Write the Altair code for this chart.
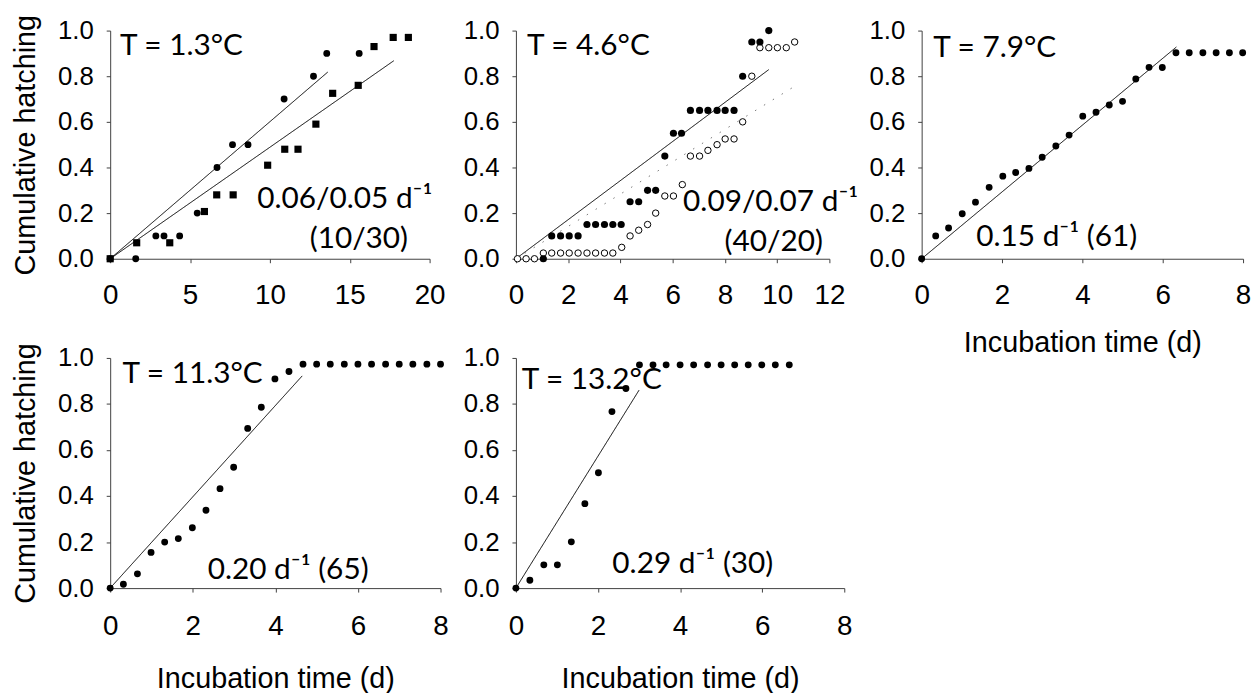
import altair as alt
import pandas as pd

# ---------------- data ----------------
# Panel 1: T = 1.3 °C
p1_circle_t = [0, 1.6, 2.86, 3.37, 4.35, 5.45, 6.69, 7.66, 8.63, 10.89, 12.73, 13.56, 15.59]
p1_circle_h = [0, 0, 0.10, 0.10, 0.10, 0.20, 0.40, 0.50, 0.50, 0.70, 0.80, 0.90, 0.90]
p1_square_t = [0, 1.66, 3.73, 5.9, 6.67, 7.70, 9.86, 10.93, 11.76, 12.88, 13.93, 15.53, 16.52, 17.72, 18.67]
p1_square_h = [0, 0.07, 0.07, 0.207, 0.28, 0.28, 0.41, 0.48, 0.48, 0.59, 0.725, 0.76, 0.93, 0.97, 0.97]
p1_fit1_t = [0, 13.62]
p1_fit1_h = [0, 0.818]
p1_fit2_t = [0, 17.76]
p1_fit2_h = [0, 0.868]

# Panel 2: T = 4.6 °C
p2_filled_t = [1.05, 1.37, 1.71, 2.04, 2.38, 2.72, 3.05, 3.39, 3.71, 4.03, 4.37, 4.70, 5.04, 5.35,
               5.70, 6.03, 6.34, 6.68, 7.03, 7.35, 7.70, 8.01, 8.35, 8.68, 9.03, 9.34, 9.68]
p2_filled_h = [0, 0.10, 0.10, 0.10, 0.10, 0.15, 0.15, 0.15, 0.15, 0.15, 0.25, 0.25, 0.30, 0.30,
               0.45, 0.55, 0.55, 0.65, 0.65, 0.65, 0.65, 0.65, 0.65, 0.80, 0.95, 0.95, 1.0]
p2_open_t = [0.06, 0.39, 0.71, 1.05, 1.37, 1.71, 2.04, 2.38, 2.72, 3.05, 3.39, 3.71, 4.05, 4.37, 4.70,
             5.04, 5.35, 5.70, 6.03, 6.37, 6.68, 7.03, 7.35, 7.70, 8.01, 8.35, 8.68, 9.03, 9.34,
             9.68, 10.01, 10.35, 10.67]
p2_open_h = [0, 0, 0, 0.025, 0.025, 0.025, 0.025, 0.025, 0.025, 0.025, 0.025, 0.025, 0.05, 0.10, 0.125,
             0.15, 0.20, 0.275, 0.275, 0.325, 0.45, 0.45, 0.475, 0.50, 0.525, 0.525, 0.60, 0.80, 0.925,
             0.925, 0.925, 0.925, 0.95]
p2_fit1_t = [0, 9.68]
p2_fit1_h = [0, 0.829]
p2_fit2_t = [0, 10.67]
p2_fit2_h = [0, 0.756]

# Panel 3: T = 7.9 °C
p3_t = [0, 0.35, 0.67, 1.01, 1.34, 1.68, 2.02, 2.34, 2.67, 3.0, 3.34, 3.67, 4.01, 4.34, 4.67, 5.0,
        5.33, 5.66, 5.99, 6.33, 6.66, 7.0, 7.33, 7.66, 7.99]
p3_h = [0, 0.10, 0.135, 0.197, 0.248, 0.313, 0.362, 0.378, 0.396, 0.445, 0.494, 0.542, 0.625, 0.642,
        0.674, 0.69, 0.788, 0.839, 0.838, 0.903, 0.903, 0.903, 0.903, 0.903, 0.903]
p3_fit_t = [0, 6.34]
p3_fit_h = [0, 0.928]

# Panel 4: T = 11.3 °C
p4_t = [0, 0.32, 0.66, 0.99, 1.32, 1.65, 1.99, 2.32, 2.66, 2.99, 3.33, 3.66, 3.99, 4.33, 4.67,
        5.0, 5.33, 5.67, 6.0, 6.33, 6.67, 7.0, 7.33, 7.67, 8.0]
p4_h = [0, 0.017, 0.062, 0.155, 0.20, 0.215, 0.262, 0.338, 0.432, 0.525, 0.694, 0.786, 0.909, 0.941,
        0.973, 0.973, 0.973, 0.973, 0.973, 0.973, 0.973, 0.973, 0.973, 0.973, 0.973]
p4_fit_t = [0, 4.65]
p4_fit_h = [0, 0.922]

# Panel 5: T = 13.2 °C
p5_t = [0, 0.34, 0.68, 1.01, 1.35, 1.68, 2.01, 2.34, 2.68, 3.01, 3.34, 3.66, 4.0, 4.33, 4.67, 5.0,
        5.33, 5.66, 5.99, 6.32, 6.66]
p5_h = [0, 0.034, 0.101, 0.101, 0.201, 0.367, 0.501, 0.767, 0.867, 0.97, 0.97, 0.97, 0.97, 0.97,
        0.97, 0.97, 0.97, 0.97, 0.97, 0.97, 0.97]
p5_fit_t = [0, 3.0]
p5_fit_h = [0, 0.86]

y_ticks = [0, 0.2, 0.4, 0.6, 0.8, 1.0]
y_title = "Cumulative hatching"
x_title = "Incubation time (d)"

FONT_AX = "Liberation Sans"
FONT_TXT = "Lato"
AX_COLOR = "#404040"


def df(t, h):
    return pd.DataFrame({"t": t, "h": h})


def make_panel(points, lines, texts, xmax, xstep, plot_w, view_w, plot_h,
               ytitle, xtitle, xlab_pad=19, xtitle_pad=18):
    xscale = alt.Scale(domain=[0, xmax], range=[0, plot_w], nice=False)
    yscale = alt.Scale(domain=[0, 1], nice=False)
    xaxis = alt.Axis(values=list(range(0, xmax + 1, xstep)), format="d", title=xtitle,
                     grid=False, domainColor=AX_COLOR, tickColor=AX_COLOR, tickSize=4,
                     labelFont=FONT_AX, labelFontSize=28, labelColor="black",
                     labelPadding=xlab_pad, labelFlush=False, labelOverlap=False,
                     titleFont=FONT_AX, titleFontSize=29, titleFontWeight="normal",
                     titleColor="black", titlePadding=xtitle_pad)
    yaxis = alt.Axis(values=y_ticks, format=".1f", title=ytitle,
                     grid=False, domainColor=AX_COLOR, tickColor=AX_COLOR, tickSize=4,
                     labelFont=FONT_AX, labelFontSize=26, labelColor="black",
                     labelPadding=13, labelFlush=False, labelOverlap=False,
                     titleFont=FONT_AX, titleFontSize=29, titleFontWeight="normal",
                     titleColor="black", titlePadding=17)
    ex = alt.X("t:Q", scale=xscale, axis=xaxis)
    ey = alt.Y("h:Q", scale=yscale, axis=yaxis)

    layers = []
    for (lt, lh, dash, color) in lines:
        m = alt.Chart(df(lt, lh)).mark_line(color=color, strokeWidth=1, strokeDash=dash)
        layers.append(m.encode(x=ex, y=ey))
    for (pt, ph, shape, filled, size) in points:
        m = alt.Chart(df(pt, ph)).mark_point(
            shape=shape, filled=True, size=size, opacity=1,
            fill="black" if filled else "white", stroke="black",
            strokeWidth=0 if filled else 1)
        layers.append(m.encode(x=ex, y=ey))
    for (tx, ty, label, align) in texts:
        tdf = pd.DataFrame({"t": [tx], "h": [ty], "label": [label]})
        m = alt.Chart(tdf).mark_text(align=align, baseline="alphabetic", font=FONT_TXT,
                                     fontSize=30, color="black")
        layers.append(m.encode(x=ex, y=ey, text="label:N"))
    return alt.layer(*layers).properties(width=view_w, height=plot_h)


SOLID = [1, 0]

p1 = make_panel(
    points=[(p1_circle_t, p1_circle_h, "circle", True, 48),
            (p1_square_t, p1_square_h, "square", True, 52)],
    lines=[(p1_fit1_t, p1_fit1_h, SOLID, "black"), (p1_fit2_t, p1_fit2_h, SOLID, "black")],
    texts=[(0.62, 0.894, "T = 1.3°C", "left"),
           (9.21, 0.222, "0.06/0.05 d⁻¹", "left"),
           (15.57, 0.048, "(10/30)", "center")],
    xmax=20, xstep=5, plot_w=322, view_w=328, plot_h=230, ytitle=y_title, xtitle=None)

p2 = make_panel(
    points=[(p2_open_t, p2_open_h, "circle", False, 42),
            (p2_filled_t, p2_filled_h, "circle", True, 52)],
    lines=[(p2_fit1_t, p2_fit1_h, SOLID, "black"), (p2_fit2_t, p2_fit2_h, [1.5, 9], "#777777")],
    texts=[(0.42, 0.892, "T = 4.6°C", "left"),
           (6.4, 0.208, "0.09/0.07 d⁻¹", "left"),
           (9.87, 0.032, "(40/20)", "center")],
    xmax=12, xstep=2, plot_w=316, view_w=336, plot_h=230, ytitle=None, xtitle=None)

p3 = make_panel(
    points=[(p3_t, p3_h, "circle", True, 48)],
    lines=[(p3_fit_t, p3_fit_h, SOLID, "black")],
    texts=[(0.29, 0.886, "T = 7.9°C", "left"),
           (1.36, 0.055, "0.15 d⁻¹ (61)", "left")],
    xmax=8, xstep=2, plot_w=324, view_w=324, plot_h=230, ytitle=None, xtitle=x_title,
    xtitle_pad=20)

p4 = make_panel(
    points=[(p4_t, p4_h, "circle", True, 48)],
    lines=[(p4_fit_t, p4_fit_h, SOLID, "black")],
    texts=[(0.30, 0.893, "T = 11.3°C", "left"),
           (2.36, 0.04, "0.20 d⁻¹ (65)", "left")],
    xmax=8, xstep=2, plot_w=333, view_w=336, plot_h=232, ytitle=y_title, xtitle=x_title,
    xlab_pad=21, xtitle_pad=24)

p5 = make_panel(
    points=[(p5_t, p5_h, "circle", True, 48)],
    lines=[(p5_fit_t, p5_fit_h, SOLID, "black")],
    texts=[(0.14, 0.867, "T = 13.2°C", "left"),
           (2.35, 0.067, "0.29 d⁻¹ (30)", "left")],
    xmax=8, xstep=2, plot_w=331, view_w=331, plot_h=232, ytitle=None, xtitle=x_title,
    xlab_pad=21, xtitle_pad=24)

chart = alt.concat(
    p1, p2, p3, p4, p5, columns=3,
    spacing={"row": 100, "column": 73},
    bounds="flush",
    align={"row": "each", "column": "none"},
).properties(
    padding={"left": 3, "top": 3, "right": 0, "bottom": 0},
    background="white",
).configure_view(strokeWidth=0)

chart.save("out.html", embed_options={"renderer": "svg", "actions": False})
